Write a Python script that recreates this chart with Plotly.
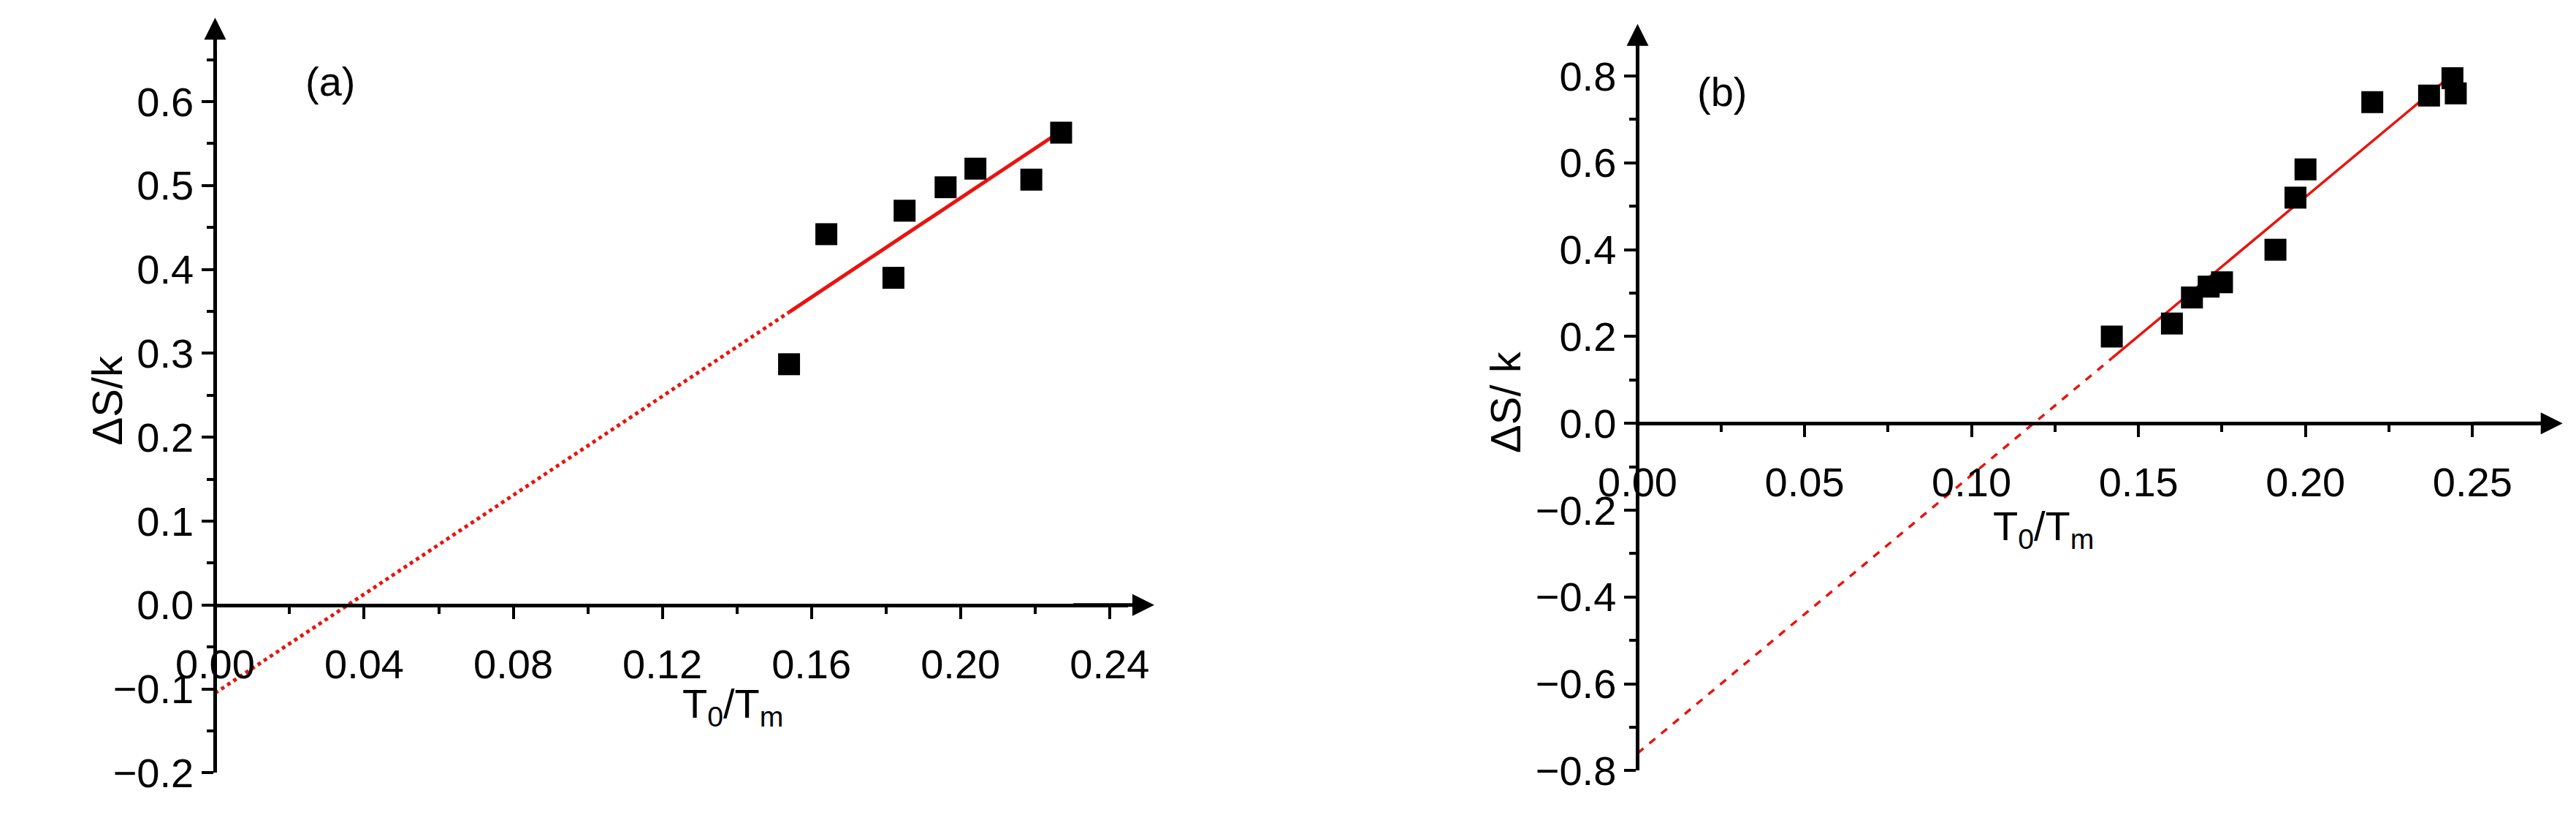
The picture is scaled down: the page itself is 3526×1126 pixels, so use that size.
import plotly.graph_objects as go

# Panel (a)
xa = [0.154, 0.164, 0.182, 0.185, 0.196, 0.204, 0.219, 0.227]
ya = [0.287, 0.442, 0.390, 0.470, 0.498, 0.520, 0.507, 0.563]
fit_a_x_ext = [0.0, 0.154]
fit_a_y_ext = [-0.105, 0.349]
fit_a_x = [0.154, 0.227]
fit_a_y = [0.349, 0.565]

# Panel (b)
xb = [0.142, 0.160, 0.166, 0.171, 0.175, 0.191, 0.197, 0.200, 0.220, 0.237, 0.244, 0.245]
yb = [0.200, 0.230, 0.290, 0.315, 0.325, 0.400, 0.520, 0.585, 0.740, 0.755, 0.795, 0.760]
fit_b_x_ext = [0.0, 0.142]
fit_b_y_ext = [-0.760, 0.150]
fit_b_x = [0.142, 0.245]
fit_b_y = [0.150, 0.810]

W, H = 3526, 1126
FONT = "Liberation Sans Narrow, Liberation Sans, Arial"
TF = dict(family=FONT, size=56, color="black")

xra, yra = [0, 0.245], [-0.2, 0.66]
xrb, yrb = [0, 0.27], [-0.8, 0.88]
dxa = [237 / W, 1517 / W]
dya = [1 - 1080 / H, 1 - 64 / H]
dxb = [2231 / W, 3495 / W]
dyb = [1 - 1077 / H, 1 - 50 / H]

def zero_pos(yr, dom):
    return dom[0] + (0 - yr[0]) / (yr[1] - yr[0]) * (dom[1] - dom[0])

fig = go.Figure()
mk = dict(symbol="square", size=30, color="black")
fig.add_trace(go.Scatter(x=fit_a_x_ext, y=fit_a_y_ext, mode="lines", line=dict(color="#e8140f", width=5, dash="dot"), xaxis="x", yaxis="y"))
fig.add_trace(go.Scatter(x=fit_a_x, y=fit_a_y, mode="lines", line=dict(color="#e8140f", width=5), xaxis="x", yaxis="y"))
fig.add_trace(go.Scatter(x=xa, y=ya, mode="markers", marker=mk, xaxis="x", yaxis="y"))
fig.add_trace(go.Scatter(x=fit_b_x_ext, y=fit_b_y_ext, mode="lines", line=dict(color="#e8140f", width=3.5, dash="dash"), xaxis="x2", yaxis="y2"))
fig.add_trace(go.Scatter(x=fit_b_x, y=fit_b_y, mode="lines", line=dict(color="#e8140f", width=3.5), xaxis="x2", yaxis="y2"))
fig.add_trace(go.Scatter(x=xb, y=yb, mode="markers", marker=mk, xaxis="x2", yaxis="y2"))

def xax(rng, dom, pos, dt, fmt):
    return dict(range=rng, domain=dom, anchor="free", position=pos, showline=True, linewidth=5,
                linecolor="black", ticks="outside", ticklen=16, tickwidth=4, tickcolor="black",
                dtick=dt, tick0=0, tickformat=fmt, tickfont=TF, showgrid=False, zeroline=False,
                minor=dict(ticks="outside", ticklen=9, tickwidth=4, dtick=dt / 2, tickcolor="black"),
                ticklabelstandoff=14)

def yax(rng, dom, pos, dt, fmt):
    return dict(range=rng, domain=dom, anchor="free", position=pos, showline=True, linewidth=5,
                linecolor="black", ticks="outside", ticklen=16, tickwidth=4, tickcolor="black",
                dtick=dt, tick0=0, tickformat=fmt, tickfont=TF, showgrid=False, zeroline=False,
                minor=dict(ticks="outside", ticklen=9, tickwidth=4, dtick=dt / 2, tickcolor="black"))

fig.update_layout(
    width=W, height=H, margin=dict(l=0, r=0, t=0, b=0), showlegend=False,
    plot_bgcolor="white", paper_bgcolor="white",
    xaxis=xax(xra, dxa, zero_pos(yra, dya), 0.04, ".2f"),
    yaxis=yax(yra, dya, dxa[0], 0.1, ".1f"),
    xaxis2=xax(xrb, dxb, zero_pos(yrb, dyb), 0.05, ".2f"),
    yaxis2=yax(yrb, dyb, dxb[0], 0.2, ".1f"),
)

ann = []
arrow = dict(showarrow=True, arrowhead=2, arrowsize=1.2, arrowwidth=5, arrowcolor="black", text="")
ann.append(dict(x=0, y=0.70, ax=0, ay=0.6, xref="x", yref="y", axref="x", ayref="y", **arrow))
ann.append(dict(x=0.252, y=0, ax=0.23, ay=0, xref="x", yref="y", axref="x", ayref="y", **arrow))
ann.append(dict(x=0, y=0.92, ax=0, ay=0.8, xref="x2", yref="y2", axref="x2", ayref="y2", **arrow))
ann.append(dict(x=0.277, y=0, ax=0.25, ay=0, xref="x2", yref="y2", axref="x2", ayref="y2", **arrow))

def txt(x, y, t, size=56, angle=0, fam=FONT):
    return dict(x=x / W, y=1 - y / H, xref="paper", yref="paper", text=t, showarrow=False,
                font=dict(family=fam, size=size, color="black"), textangle=angle)

ann += [
    txt(361, 72, "(a)"), txt(2349, 86, "(b)"),
    txt(890, 1025, "T<sub>0</sub>/T<sub>m</sub>"), txt(2873, 775, "T<sub>0</sub>/T<sub>m</sub>"),
    txt(50, 555, "ΔS/k", size=58, angle=-90, fam="Liberation Sans, Arial"),
    txt(2045, 558, "ΔS/ k", size=58, angle=-90, fam="Liberation Sans, Arial"),
]
fig.update_layout(annotations=ann)
fig.write_html("out.html")
